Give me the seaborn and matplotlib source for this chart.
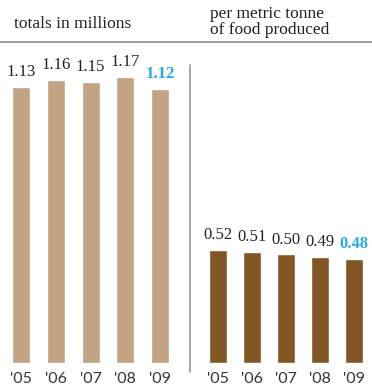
import matplotlib
matplotlib.use("Agg")
import matplotlib.pyplot as plt
import seaborn as sns
import pandas as pd

years = ["'05", "'06", "'07", "'08", "'09"]
totals = [1.13, 1.16, 1.15, 1.17, 1.12]
per_tonne = [0.52, 0.51, 0.50, 0.49, 0.48]
titles = ["totals in millions", "per metric tonne\nof food produced"]

sns.set_theme(style="white")
plt.rcParams['font.family'] = ['Liberation Serif', 'DejaVu Serif']

W, H = 372, 388
fig = plt.figure(figsize=(W/100, H/100), dpi=100)

def box(x0, y0, x1, y1):
    return [x0/W, 1 - y1/H, (x1-x0)/W, (y1-y0)/H]

light = "#C2A383"
dark = "#835625"
blue = "#29ABE2"

ax1 = fig.add_axes(box(3.6, 65, 177.5, 363))
ax2 = fig.add_axes(box(201, 65, 371, 363))

for ax, vals, col, ytop in [(ax1, totals, light, 1.22), (ax2, per_tonne, dark, 1.373)]:
    df = pd.DataFrame({"year": years, "value": vals})
    sns.barplot(data=df, x="year", y="value", color=col, saturation=1, width=0.52, ax=ax)
    ax.set_ylim(0, ytop)
    ax.set_xlim(-0.5, 4.5)
    for s in ax.spines.values():
        s.set_visible(False)
    ax.set_xlabel("")
    ax.set_ylabel("")
    ax.set_yticks([])
    ax.tick_params(axis='x', length=0, pad=6.5)
    for lab in ax.get_xticklabels():
        lab.set_fontfamily(['Lato', 'DejaVu Sans'])
        lab.set_fontsize(11.5)
        lab.set_color("#333333")
    for i, v in enumerate(vals):
        last = i == len(vals) - 1
        ax.annotate("{:.2f}".format(v), (i, v), xytext=(0, 5), textcoords="offset points",
                    ha="center", va="bottom", fontsize=12,
                    color=blue if last else "#222222",
                    fontweight="bold" if last else "normal")
    ax.patch.set_alpha(0)

# header texts and rules
fig.text(14/W, 1 - 24/H, titles[0], fontsize=12.5, color="#222222", va="center", ha="left")
fig.text(210/W, 1 - 22/H, titles[1], fontsize=12.5, color="#222222", va="center", ha="left",
         linespacing=0.92)
fig.add_artist(plt.Line2D([0, 1], [1 - 42/H, 1 - 42/H], color="#8a8a8a", lw=1.2))
fig.add_artist(plt.Line2D([190/W, 190/W], [1 - 65/H, 1 - 372/H], color="#9a9a9a", lw=1.2))

fig.savefig("out.png", dpi=100)
